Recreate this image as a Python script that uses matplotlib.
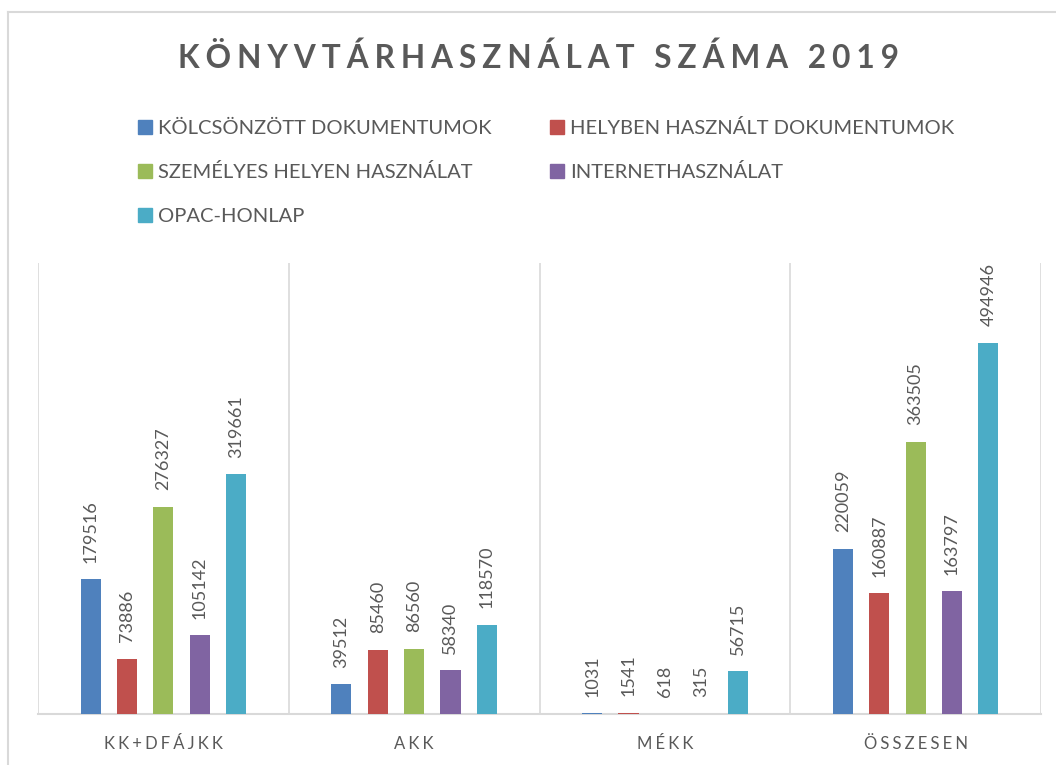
import matplotlib
matplotlib.use("Agg")
import matplotlib.pyplot as plt
from matplotlib.lines import Line2D
import numpy as np

categories = ["KK+DFÁJKK", "AKK", "MÉKK", "ÖSSZESEN"]
series_names = ["KÖLCSÖNZÖTT DOKUMENTUMOK", "HELYBEN HASZNÁLT DOKUMENTUMOK",
                "SZEMÉLYES HELYEN HASZNÁLAT", "INTERNETHASZNÁLAT", "OPAC-HONLAP"]
kolcsonzott = [179516, 39512, 1031, 220059]
helyben = [73886, 85460, 1541, 160887]
szemelyes = [276327, 86560, 618, 363505]
internet = [105142, 58340, 315, 163797]
opac = [319661, 118570, 56715, 494946]
series_values = [kolcsonzott, helyben, szemelyes, internet, opac]
colors = ["#4F81BD", "#C0504D", "#9BBB59", "#8064A2", "#4BACC6"]
title = "KÖNYVTÁRHASZNÁLAT SZÁMA 2019"

TXT = "#595959"
FAM = ["Lato", "DejaVu Sans"]
plt.rcParams['font.family'] = FAM

def spaced(s, sep="\u2009"):
    return sep.join(list(s))

fig = plt.figure(figsize=(10.56, 7.65), dpi=100)
ax = fig.add_axes([38/1056, 1-714/765, (1041-38)/1056, (714-263)/765])

x = np.arange(len(categories))
bw = 0.08
step = 0.145
for i, (vals, c) in enumerate(zip(series_values, colors)):
    pos = x + (i - 2) * step
    ax.bar(pos, vals, width=bw, color=c, zorder=3)
    for p, v in zip(pos, vals):
        ax.annotate(str(v), (p, v), xytext=(0, 12), textcoords="offset points",
                    rotation=90, ha="center", va="bottom", fontsize=13, color=TXT)

ax.set_xlim(-0.5, len(categories) - 0.5)
ax.set_ylim(0, 601700)
ax.set_yticks([])
ax.set_xticks(x)
ax.set_xticklabels([spaced(c, "\u2009\u200a") for c in categories], fontsize=12, color=TXT)
ax.tick_params(axis="x", length=0, pad=16)
for b in np.arange(-0.5, len(categories), 1.0):
    ax.axvline(b, color="#D9D9D9", lw=1.2, zorder=1)
for s in ["top", "right", "left"]:
    ax.spines[s].set_visible(False)
ax.spines["bottom"].set_color("#D9D9D9")
ax.spines["bottom"].set_linewidth(1.5)

fig.text(538/1056, 1-58/765, spaced(title, "\u2009\u200a"), ha="center", va="center",
         fontsize=22.7, fontweight="bold", color=TXT)

handles = [Line2D([], [], marker="s", linestyle="none", markersize=10,
                  markerfacecolor=c, markeredgecolor=c) for c in colors]
order = [0, 2, 4, 1, 3]
leg = fig.legend([handles[i] for i in order], [series_names[i] for i in order],
                 ncol=2, loc="upper left",
                 bbox_to_anchor=(120/1056, 1-101/765), frameon=False,
                 fontsize=14.5, labelcolor=TXT, handlelength=0.7, handletextpad=0.3,
                 columnspacing=2.9, labelspacing=1.3)

# outer chart border (left and top visible)
fig.add_artist(Line2D([8/1056, 8/1056], [0, 1-12/765], color="#D9D9D9", lw=1.5,
                      transform=fig.transFigure))
fig.add_artist(Line2D([8/1056, 1], [1-12/765, 1-12/765], color="#D9D9D9", lw=1.5,
                      transform=fig.transFigure))

fig.savefig("out.png", dpi=100)
